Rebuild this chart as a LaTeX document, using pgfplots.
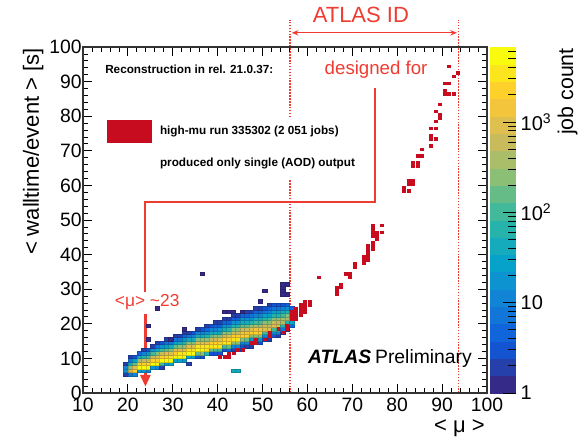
\documentclass[border=0pt]{standalone}
\usepackage{fontspec}
\setmainfont{Liberation Sans}
\usepackage{pgfplots}
\pgfplotsset{compat=1.18}
\usetikzlibrary{arrows.meta}

\definecolor{binred}{RGB}{198,12,30}
\definecolor{annred}{RGB}{238,60,50}

% ROOT kBird palette, 20 steps
\pgfplotsset{
  colormap={birdsteps}{
    rgb=(0.2082,0.1664,0.5293) rgb=(0.1455,0.2479,0.6721)
    rgb=(0.0827,0.3293,0.8148) rgb=(0.0641,0.3978,0.8605)
    rgb=(0.0721,0.4585,0.8479) rgb=(0.0722,0.5186,0.8336)
    rgb=(0.0492,0.5766,0.8137) rgb=(0.0261,0.6346,0.7939)
    rgb=(0.0810,0.6698,0.7366) rgb=(0.1471,0.7018,0.6739)
    rgb=(0.2539,0.7244,0.6054) rgb=(0.4013,0.7376,0.5311)
    rgb=(0.5453,0.7483,0.4601) rgb=(0.6668,0.7414,0.4111)
    rgb=(0.7883,0.7345,0.3621) rgb=(0.8745,0.7497,0.3015)
    rgb=(0.9490,0.7722,0.2371) rgb=(0.9926,0.8173,0.1742)
    rgb=(0.9845,0.9003,0.1141) rgb=(0.9764,0.9832,0.0539)
  },
}

\begin{document}
\begin{tikzpicture}
\useasboundingbox (-62.25pt,-33.75pt) rectangle (374.25pt,294.75pt);
\begin{axis}[
  at={(0pt,0pt)}, anchor=south west,
  scale only axis, width=303pt, height=259.5pt,
  xmin=10, xmax=100, ymin=0, ymax=100,
  xtick distance=10, ytick distance=10,
  minor x tick num=4, minor y tick num=4,
  tick align=inside,
  major tick length=7pt, minor tick length=3.5pt,
  every tick/.style={black, line width=0.6pt},
  axis line style={line width=0.8pt, black!80},
  axis on top, clip=false,
  tick label style={font=\fontsize{14.5}{16}\selectfont},
  /pgf/number format/assume math mode=true,
  yticklabel style={xshift=2.5pt},
  xlabel={< μ >},
  xlabel style={at={(axis description cs:0.995,-0.113)}, anchor=base east,
    inner sep=0pt, font=\fontsize{16.5}{18}\selectfont},
  ylabel={< walltime/event > [s]},
  ylabel style={at={(axis description cs:-0.109,0.997)}, anchor=base east,
    inner sep=0pt, font=\fontsize{16.5}{18}\selectfont},
  colormap name=birdsteps, colormap access=piecewise constant,
  point meta min=0, point meta max=3.83,
  colorbar,
  colorbar style={
    at={(parent axis.north east)}, anchor=north west, xshift=-6.25pt,
    width=19.5pt,
    axis line style={draw=none},
    ytick={0,1,2,3},
    yticklabels={1,10,10\textsuperscript{2},10\textsuperscript{3}},
    minor ytick={0.30103,0.47712,0.60206,0.69897,0.77815,0.84510,0.90309,0.95424,
      1.30103,1.47712,1.60206,1.69897,1.77815,1.84510,1.90309,1.95424,
      2.30103,2.47712,2.60206,2.69897,2.77815,2.84510,2.90309,2.95424,
      3.30103,3.47712,3.60206,3.69897,3.77815},
    ytick pos=right, yticklabel pos=right,
    tick align=inside,
    major tick length=10pt, minor tick length=6pt,
    every tick/.style={black, line width=0.6pt},
    yticklabel style={font=\fontsize{15}{17}\selectfont},
  },
]

% 2D histogram: mu bin centre, walltime bin centre, log10(job count)
\addplot[scatter, only marks, point meta=explicit,
  mark=square*, mark size=1.684pt,
  mark options={yscale=0.771, line width=0.25pt}]
  table[row sep=\\, x=x, y=y, meta=m] {
x y m\\
19.5 5.5 0.3\\ 19.5 6.5 1.3\\ 19.5 7.5 1.0\\ 19.5 8.5 0.3\\
20.5 5.5 0.8\\ 20.5 6.5 2.8\\ 20.5 7.5 2.4\\ 20.5 8.5 1.6\\ 20.5 9.5 0.9\\ 20.5 10.5 0.2\\
21.5 5.5 1.0\\ 21.5 6.5 3.4\\ 21.5 7.5 3.0\\ 21.5 8.5 2.2\\ 21.5 9.5 1.4\\ 21.5 10.5 0.5\\
22.5 6.5 1.2\\ 22.5 7.5 3.7\\ 22.5 8.5 3.3\\ 22.5 9.5 2.5\\ 22.5 10.5 1.6\\ 22.5 11.5 0.6\\
23.5 6.5 1.2\\ 23.5 7.5 3.7\\ 23.5 8.5 3.4\\ 23.5 9.5 2.7\\ 23.5 10.5 1.9\\ 23.5 11.5 1.1\\ 23.5 12.5 0.3\\
24.5 6.5 1.0\\ 24.5 7.5 3.7\\ 24.5 8.5 3.4\\ 24.5 9.5 2.8\\ 24.5 10.5 2.0\\ 24.5 11.5 1.2\\ 24.5 12.5 0.4\\
25.5 7.5 1.2\\ 25.5 8.5 3.7\\ 25.5 9.5 3.4\\ 25.5 10.5 2.8\\ 25.5 11.5 2.0\\ 25.5 12.5 1.2\\ 25.5 13.5 0.3\\
26.5 7.5 1.1\\ 26.5 8.5 3.7\\ 26.5 9.5 3.4\\ 26.5 10.5 2.9\\ 26.5 11.5 2.3\\ 26.5 12.5 1.6\\ 26.5 13.5 0.9\\ 26.5 14.5 0.2\\
27.5 7.5 0.3\\ 27.5 8.5 2.0\\ 27.5 9.5 3.7\\ 27.5 10.5 3.4\\ 27.5 11.5 2.8\\ 27.5 12.5 2.0\\ 27.5 13.5 1.2\\ 27.5 14.5 0.4\\
28.5 8.5 1.3\\ 28.5 9.5 3.7\\ 28.5 10.5 3.4\\ 28.5 11.5 2.9\\ 28.5 12.5 2.2\\ 28.5 13.5 1.5\\ 28.5 14.5 0.8\\ 28.5 15.5 0.2\\
29.5 8.5 1.5\\ 29.5 9.5 3.7\\ 29.5 10.5 3.5\\ 29.5 11.5 3.0\\ 29.5 12.5 2.3\\ 29.5 13.5 1.6\\ 29.5 14.5 0.9\\ 29.5 15.5 0.3\\
30.5 9.5 1.4\\ 30.5 10.5 3.7\\ 30.5 11.5 3.4\\ 30.5 12.5 2.9\\ 30.5 13.5 2.2\\ 30.5 14.5 1.5\\ 30.5 15.5 0.8\\ 30.5 16.5 0.2\\
31.5 9.5 1.5\\ 31.5 10.5 3.7\\ 31.5 11.5 3.5\\ 31.5 12.5 3.0\\ 31.5 13.5 2.3\\ 31.5 14.5 1.6\\ 31.5 15.5 0.9\\ 31.5 16.5 0.3\\
32.5 9.5 1.3\\ 32.5 10.5 3.7\\ 32.5 11.5 3.5\\ 32.5 12.5 3.0\\ 32.5 13.5 2.4\\ 32.5 14.5 1.8\\ 32.5 15.5 1.2\\ 32.5 16.5 0.6\\ 32.5 17.5 0.2\\
33.5 10.5 1.5\\ 33.5 11.5 3.7\\ 33.5 12.5 3.5\\ 33.5 13.5 3.0\\ 33.5 14.5 2.3\\ 33.5 15.5 1.6\\ 33.5 16.5 0.9\\ 33.5 17.5 0.3\\
34.5 10.5 1.4\\ 34.5 11.5 3.7\\ 34.5 12.5 3.5\\ 34.5 13.5 3.0\\ 34.5 14.5 2.4\\ 34.5 15.5 1.7\\ 34.5 16.5 1.0\\ 34.5 17.5 0.4\\
35.5 10.5 0.4\\ 35.5 11.5 2.2\\ 35.5 12.5 3.7\\ 35.5 13.5 3.5\\ 35.5 14.5 3.0\\ 35.5 15.5 2.4\\ 35.5 16.5 1.7\\ 35.5 17.5 1.0\\ 35.5 18.5 0.3\\
36.5 10.5 0.5\\ 36.5 11.5 2.3\\ 36.5 12.5 3.7\\ 36.5 13.5 3.5\\ 36.5 14.5 3.0\\ 36.5 15.5 2.4\\ 36.5 16.5 1.7\\ 36.5 17.5 1.0\\ 36.5 18.5 0.4\\
37.5 11.5 1.8\\ 37.5 12.5 3.6\\ 37.5 13.5 3.5\\ 37.5 14.5 3.0\\ 37.5 15.5 2.4\\ 37.5 16.5 1.8\\ 37.5 17.5 1.2\\ 37.5 18.5 0.6\\ 37.5 19.5 0.2\\
38.5 11.5 0.5\\ 38.5 12.5 2.2\\ 38.5 13.5 3.5\\ 38.5 14.5 3.3\\ 38.5 15.5 2.8\\ 38.5 16.5 2.2\\ 38.5 17.5 1.6\\ 38.5 18.5 1.0\\ 38.5 19.5 0.4\\
39.5 11.5 0.4\\ 39.5 12.5 2.0\\ 39.5 13.5 3.5\\ 39.5 14.5 3.3\\ 39.5 15.5 2.8\\ 39.5 16.5 2.3\\ 39.5 17.5 1.7\\ 39.5 18.5 1.1\\ 39.5 19.5 0.6\\ 39.5 20.5 0.2\\
40.5 11.5 0.5\\ 40.5 12.5 2.1\\ 40.5 13.5 3.5\\ 40.5 14.5 3.3\\ 40.5 15.5 2.9\\ 40.5 16.5 2.3\\ 40.5 17.5 1.7\\ 40.5 18.5 1.2\\ 40.5 19.5 0.6\\ 40.5 20.5 0.3\\
41.5 12.5 0.5\\ 41.5 13.5 2.1\\ 41.5 14.5 3.5\\ 41.5 15.5 3.3\\ 41.5 16.5 2.8\\ 41.5 17.5 2.3\\ 41.5 18.5 1.7\\ 41.5 19.5 1.2\\ 41.5 20.5 0.6\\ 41.5 21.5 0.2\\
42.5 12.5 0.6\\ 42.5 13.5 2.2\\ 42.5 14.5 3.5\\ 42.5 15.5 3.3\\ 42.5 16.5 2.9\\ 42.5 17.5 2.3\\ 42.5 18.5 1.8\\ 42.5 19.5 1.2\\ 42.5 20.5 0.7\\ 42.5 21.5 0.3\\
43.5 12.5 0.3\\ 43.5 13.5 1.0\\ 43.5 14.5 2.3\\ 43.5 15.5 3.5\\ 43.5 16.5 3.3\\ 43.5 17.5 2.8\\ 43.5 18.5 2.3\\ 43.5 19.5 1.8\\ 43.5 20.5 1.2\\ 43.5 21.5 0.7\\ 43.5 22.5 0.2\\
44.5 12.5 0.4\\ 44.5 13.5 1.1\\ 44.5 14.5 2.4\\ 44.5 15.5 3.5\\ 44.5 16.5 3.3\\ 44.5 17.5 2.8\\ 44.5 18.5 2.3\\ 44.5 19.5 1.8\\ 44.5 20.5 1.3\\ 44.5 21.5 0.7\\ 44.5 22.5 0.3\\
45.5 13.5 0.4\\ 45.5 14.5 1.1\\ 45.5 15.5 2.3\\ 45.5 16.5 3.3\\ 45.5 17.5 3.1\\ 45.5 18.5 2.7\\ 45.5 19.5 2.2\\ 45.5 20.5 1.7\\ 45.5 21.5 1.2\\ 45.5 22.5 0.7\\ 45.5 23.5 0.2\\
46.5 13.5 0.3\\ 46.5 14.5 1.0\\ 46.5 15.5 2.2\\ 46.5 16.5 3.3\\ 46.5 17.5 3.1\\ 46.5 18.5 2.7\\ 46.5 19.5 2.2\\ 46.5 20.5 1.7\\ 46.5 21.5 1.2\\ 46.5 22.5 0.7\\ 46.5 23.5 0.3\\
47.5 13.5 0.2\\ 47.5 14.5 0.6\\ 47.5 15.5 1.3\\ 47.5 16.5 2.3\\ 47.5 17.5 3.3\\ 47.5 18.5 3.0\\ 47.5 19.5 2.5\\ 47.5 20.5 1.9\\ 47.5 21.5 1.3\\ 47.5 22.5 0.8\\ 47.5 23.5 0.3\\
48.5 14.5 0.4\\ 48.5 15.5 1.2\\ 48.5 16.5 2.3\\ 48.5 17.5 3.3\\ 48.5 18.5 3.1\\ 48.5 19.5 2.6\\ 48.5 20.5 2.1\\ 48.5 21.5 1.6\\ 48.5 22.5 1.1\\ 48.5 23.5 0.6\\ 48.5 24.5 0.2\\
49.5 14.5 0.5\\ 49.5 15.5 1.3\\ 49.5 16.5 2.4\\ 49.5 17.5 3.3\\ 49.5 18.5 3.1\\ 49.5 19.5 2.6\\ 49.5 20.5 2.1\\ 49.5 21.5 1.6\\ 49.5 22.5 1.1\\ 49.5 23.5 0.6\\ 49.5 24.5 0.3\\
50.5 15.5 0.4\\ 50.5 16.5 1.1\\ 50.5 17.5 2.1\\ 50.5 18.5 3.0\\ 50.5 19.5 2.8\\ 50.5 20.5 2.4\\ 50.5 21.5 1.9\\ 50.5 22.5 1.4\\ 50.5 23.5 0.9\\ 50.5 24.5 0.4\\
51.5 15.5 0.3\\ 51.5 16.5 1.0\\ 51.5 17.5 2.0\\ 51.5 18.5 3.0\\ 51.5 19.5 2.8\\ 51.5 20.5 2.4\\ 51.5 21.5 2.0\\ 51.5 22.5 1.5\\ 51.5 23.5 1.0\\ 51.5 24.5 0.6\\ 51.5 25.5 0.2\\
52.5 16.5 0.4\\ 52.5 17.5 1.1\\ 52.5 18.5 2.1\\ 52.5 19.5 3.0\\ 52.5 20.5 2.8\\ 52.5 21.5 2.4\\ 52.5 22.5 1.9\\ 52.5 23.5 1.4\\ 52.5 24.5 0.9\\ 52.5 25.5 0.4\\
53.5 16.5 0.3\\ 53.5 17.5 1.0\\ 53.5 18.5 2.0\\ 53.5 19.5 3.0\\ 53.5 20.5 2.8\\ 53.5 21.5 2.4\\ 53.5 22.5 1.9\\ 53.5 23.5 1.4\\ 53.5 24.5 0.9\\ 53.5 25.5 0.5\\
54.5 17.5 0.3\\ 54.5 18.5 0.9\\ 54.5 19.5 1.8\\ 54.5 20.5 2.6\\ 54.5 21.5 2.5\\ 54.5 22.5 2.1\\ 54.5 23.5 1.6\\ 54.5 24.5 1.1\\ 54.5 25.5 0.5\\
55.5 18.5 0.3\\ 55.5 19.5 1.0\\ 55.5 20.5 1.8\\ 55.5 21.5 2.6\\ 55.5 22.5 2.4\\ 55.5 23.5 1.9\\ 55.5 24.5 1.3\\ 55.5 25.5 0.6\\
56.5 19.5 0.6\\ 56.5 20.5 1.5\\ 56.5 21.5 2.2\\ 56.5 22.5 2.0\\ 56.5 23.5 1.4\\ 56.5 24.5 0.6\\
36.5 34.5 0.1\\ 54.5 28.5 0.1\\ 54.5 29.5 0.1\\ 54.5 30.5 0.1\\ 54.5 31.5 0.1\\ 55.5 31.5 0.1\\ 55.5 28.5 0.1\\
50.5 29.5 0.1\\ 49.5 26.5 0.1\\ 26.5 24.5 0.1\\ 24.5 19.5 0.1\\ 24.5 15.5 0.1\\ 32.5 18.5 0.1\\ 29.5 15.5 0.1\\
41.5 23.5 0.1\\ 42.5 23.5 0.1\\ 43.5 23.5 0.1\\ 45.5 23.5 0.1\\ 33.5 8.5 0.2\\ 43.5 6.5 1.7\\ 44.5 6.5 1.7\\
};

% high-mu run 335302
\addplot[only marks, mark=square*, mark size=1.12pt, color=binred,
  mark options={draw=none, fill=binred, yscale=0.82}]
  table[row sep=\\] {
x y\\
40.5 10.5\\ 41.5 10.5\\ 42.5 10.5\\ 42.5 11.5\\ 43.5 11.5\\ 44.5 12.5\\ 45.5 12.5\\
47.5 14.5\\ 48.5 14.5\\ 48.5 15.5\\ 50.5 15.5\\ 51.5 16.5\\ 51.5 17.5\\ 53.5 18.5\\
54.5 17.5\\ 55.5 18.5\\ 55.5 19.5\\
56.5 21.5\\ 56.5 22.5\\ 56.5 23.5\\ 57.5 21.5\\ 57.5 22.5\\ 57.5 23.5\\ 57.5 24.5\\
58.5 22.5\\ 58.5 23.5\\ 58.5 24.5\\ 58.5 25.5\\ 59.5 23.5\\ 59.5 24.5\\ 59.5 25.5\\ 59.5 26.5\\
60.5 25.5\\ 60.5 26.5\\
62.5 33.5\\
66.5 28.5\\ 66.5 29.5\\ 66.5 30.5\\ 67.5 30.5\\ 67.5 31.5\\
68.5 34.5\\ 69.5 34.5\\ 69.5 33.5\\ 70.5 36.5\\ 70.5 37.5\\
72.5 37.5\\ 72.5 38.5\\ 72.5 39.5\\ 73.5 38.5\\ 73.5 39.5\\
73.5 40.5\\ 73.5 41.5\\ 73.5 42.5\\ 74.5 41.5\\ 74.5 42.5\\ 74.5 43.5\\
74.5 45.5\\ 74.5 46.5\\ 74.5 47.5\\ 74.5 48.5\\ 75.5 44.5\\ 75.5 45.5\\ 75.5 46.5\\ 76.5 46.5\\ 76.5 48.5\\
81.5 58.5\\ 82.5 58.5\\ 81.5 59.5\\ 82.5 60.5\\ 82.5 61.5\\ 83.5 60.5\\ 83.5 61.5\\
83.5 65.5\\ 84.5 65.5\\ 84.5 66.5\\ 83.5 66.5\\ 84.5 68.5\\ 85.5 68.5\\ 85.5 70.5\\
87.5 71.5\\ 87.5 73.5\\ 88.5 73.5\\ 87.5 74.5\\ 87.5 76.5\\ 88.5 76.5\\ 88.5 78.5\\
89.5 79.5\\ 89.5 80.5\\ 88.5 81.5\\ 89.5 83.5\\ 90.5 86.5\\ 90.5 87.5\\ 91.5 86.5\\ 92.5 86.5\\
90.5 89.5\\ 91.5 89.5\\ 92.5 91.5\\ 93.5 92.5\\ 91.5 94.5\\
};

% ATLAS ID range
\draw[annred, line width=1pt, dash pattern=on 1.2pt off 1pt] (axis cs:56.1,0) -- (axis cs:56.1,107.8);
\draw[annred, line width=1pt, dash pattern=on 1.2pt off 1pt] (axis cs:93.7,0) -- (axis cs:93.7,107.8);
\fill[white] (axis cs:55.3,61.6) rectangle (axis cs:56.9,79.5);
\draw[annred, line width=0.9pt, {Stealth[length=5pt,width=4pt]}-{Stealth[length=5pt,width=4pt]}]
  (axis cs:56.5,104.1) -- (axis cs:93.3,104.1);
\node[annred, font=\fontsize{16.5}{18}\selectfont] at (axis cs:71.9,109.2) {ATLAS ID};

% designed-for arrow
\draw[annred, line width=1.5pt] (axis cs:75,88.2) -- (axis cs:75,55.3) -- (axis cs:23.8,55.3) -- (axis cs:23.8,29.3);
\draw[annred, line width=2.2pt, -{Triangle[length=9pt,width=7.5pt]}] (axis cs:23.9,22.8) -- (axis cs:23.9,1.8);
\node[annred, font=\fontsize{13}{15}\selectfont] at (axis cs:24.3,26.2) {<μ> \textasciitilde23};
\node[annred, font=\fontsize{14}{16}\selectfont] at (axis cs:75.3,93.4) {designed for};

% legend text
\node[anchor=west, inner sep=0pt, font=\bfseries\fontsize{8.8}{10}\selectfont] at (axis cs:14.9,93.6) {Reconstruction in rel. 21.0.37:};
\fill[binred] (axis cs:15.4,72.3) rectangle (axis cs:25.3,78.9);
\node[anchor=west, inner sep=0pt, font=\bfseries\fontsize{8.8}{10}\selectfont] at (axis cs:27.1,75.6) {high-mu run 335302 (2 051 jobs)};
\node[anchor=west, inner sep=0pt, font=\bfseries\fontsize{8.8}{10}\selectfont] at (axis cs:27.1,66.4) {produced only single (AOD) output};

\node[anchor=base west, inner sep=0pt, font=\fontsize{14.5}{16}\selectfont] at (axis cs:60.1,8.4) {\textbf{\textit{ATLAS}}\hspace{3pt}Preliminary};
\node[rotate=90, anchor=base east, inner sep=0pt, font=\fontsize{16}{18}\selectfont] at (axis description cs:1.213,0.997) {job count};
\end{axis}
\end{tikzpicture}
\end{document}
